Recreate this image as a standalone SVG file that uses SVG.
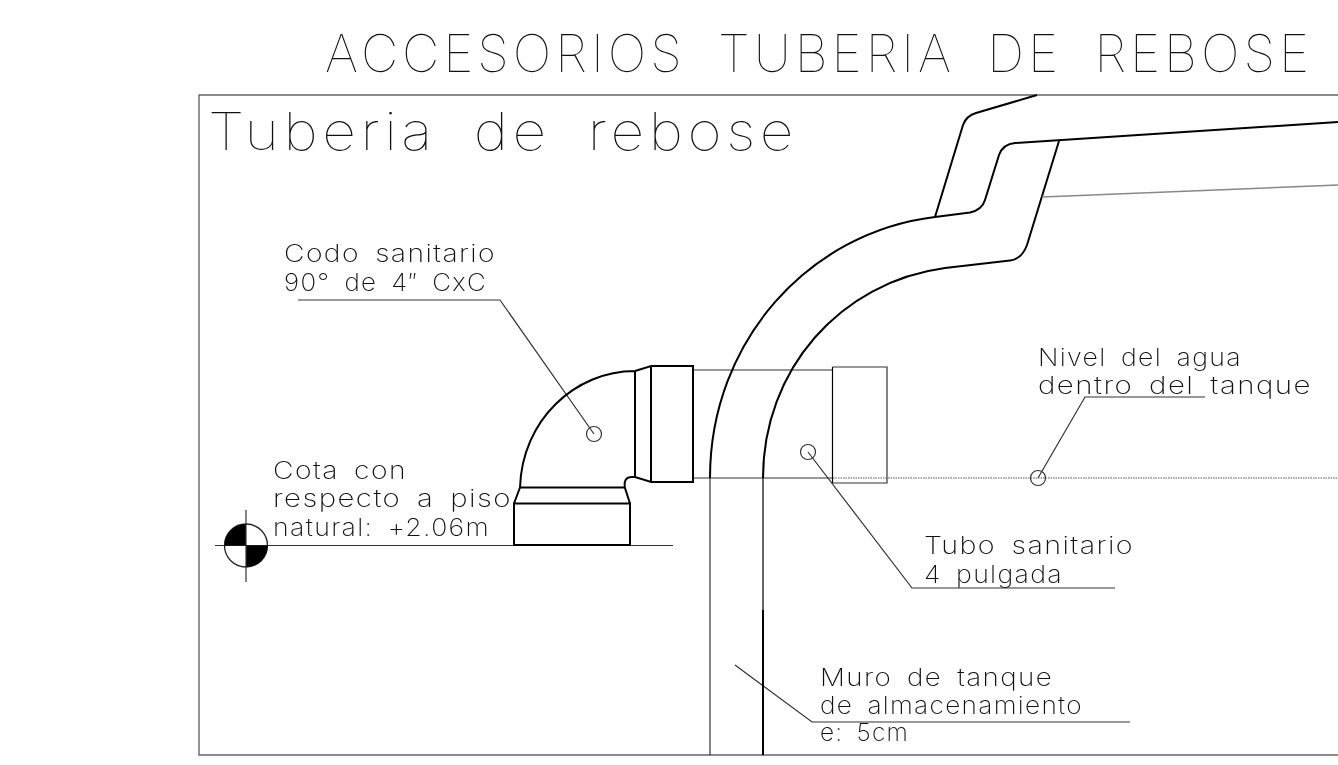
<svg xmlns="http://www.w3.org/2000/svg" width="1338" height="765" viewBox="0 0 1338 765">
<defs><filter id="gs" filterUnits="userSpaceOnUse" x="0" y="0" width="1338" height="765"><feOffset dx="0" dy="0"/></filter></defs>
<style>
.t{font-family:"Inter","Liberation Sans",sans-serif;font-weight:100;fill:#111}
.s{font-size:24px;font-weight:200;letter-spacing:1.2px;word-spacing:5px}
.b{font-size:52px;letter-spacing:4px;word-spacing:14px}
.thin{fill:none;stroke:#333;stroke-width:1.2}
.thick{fill:none;stroke:#000;stroke-width:2}
.gray{fill:none;stroke:#888;stroke-width:1.5}
</style>
<rect width="1338" height="765" fill="#fff"/>
<g id="frame"><path class="gray" d="M1338 95H199V755H1338" style="stroke:#666;stroke-width:1.4"/></g>
<g id="title" filter="url(#gs)"><text class="t b" x="325" y="72" textLength="988" lengthAdjust="spacingAndGlyphs">ACCESORIOS TUBERIA DE REBOSE</text></g>
<g id="subtitle" filter="url(#gs)"><text class="t b" x="208" y="150" textLength="590" lengthAdjust="spacingAndGlyphs">Tuberia de rebose</text></g>
<g id="connectors">
<path class="thin" d="M500 300H298M500 300L594 434"/>
<path class="thin" d="M808 452L912 588H1115"/>
<path class="thin" d="M1038 478L1085 397H1205"/>
<path class="thin" d="M735 665L812 722H1130"/>
<path class="thin" d="M215 545.500H673"/>
<path class="thin" d="M693 370H833M693 478H833"/>
<path fill="none" stroke="#555" stroke-width="1.2" stroke-dasharray="1.500 1" d="M833 478H1338"/>
</g>
<g id="tubo">
<path class="thin" d="M710 478V755"/>
<path d="M763 478V610" fill="none" stroke="#222" stroke-width="1.4"/>
<path class="thick" d="M763 610V755"/>
<path class="thick" d="M710 478C710 340 810 232 935 217L970 212.500Q982 210 985 200L999 155Q1003 144 1015 143L1338 122"/>
<path class="thick" d="M763 478C763 370 840 282 945 268L1010 260.500Q1022 259 1027 245L1059 141"/>
<path class="thick" d="M935 217L963 125Q966 116 976 113L1037 95"/>
<path class="gray" d="M1042 197L1338 185"/>
<path class="thin" d="M832.500 367H887V483H832.500"/>
<path fill="none" stroke="#000" stroke-width="1.2" d="M832.500 367V483"/>
<circle class="thin" cx="808" cy="452" r="7.500"/>
<circle class="thin" cx="1038" cy="478" r="7.500"/>
</g>
<g id="codo">
<path class="thick" d="M514 503.500H630V545H514ZM514 503.500L520 487.500H625M520 487.500C522 420 575 371 635 371V477M630 503.500L625 488Q623 477 632 477H635L651 482V366L635 371M651 366H693V482H651"/>
<circle class="thin" cx="594" cy="434" r="7.500"/>
</g>
<g id="cota">
<circle cx="246" cy="545.500" r="21.500" fill="none" stroke="#222" stroke-width="1.3"/>
<path d="M246 545.500V524A21.500 21.500 0 0 0 224.500 545.500ZM246 545.500V567A21.500 21.500 0 0 0 267.500 545.500Z" fill="#000"/>
<path class="thin" d="M246 510V582"/>
</g>
<g id="labels" filter="url(#gs)">
<text class="t s" x="284" y="262" textLength="212" lengthAdjust="spacingAndGlyphs">Codo sanitario</text>
<text class="t s" x="284" y="291" textLength="203" lengthAdjust="spacingAndGlyphs">90° de 4″ CxC</text>
<text class="t s" x="273" y="479" textLength="134" lengthAdjust="spacingAndGlyphs">Cota con</text>
<text class="t s" x="273" y="507" textLength="239" lengthAdjust="spacingAndGlyphs">respecto a piso</text>
<text class="t s" x="273" y="536" textLength="217" lengthAdjust="spacingAndGlyphs">natural: +2.06m</text>
<text class="t s" x="1038" y="366" textLength="204" lengthAdjust="spacingAndGlyphs">Nivel del agua</text>
<text class="t s" x="1038" y="394" textLength="274" lengthAdjust="spacingAndGlyphs">dentro del tanque</text>
<text class="t s" x="924" y="554" textLength="210" lengthAdjust="spacingAndGlyphs">Tubo sanitario</text>
<text class="t s" x="924" y="583" textLength="139" lengthAdjust="spacingAndGlyphs">4 pulgada</text>
<text class="t s" x="820" y="686" textLength="233" lengthAdjust="spacingAndGlyphs">Muro de tanque</text>
<text class="t s" x="820" y="714" textLength="263" lengthAdjust="spacingAndGlyphs">de almacenamiento</text>
<text class="t s" x="820" y="741" textLength="89" lengthAdjust="spacingAndGlyphs">e: 5cm</text>
</g>
</svg>
